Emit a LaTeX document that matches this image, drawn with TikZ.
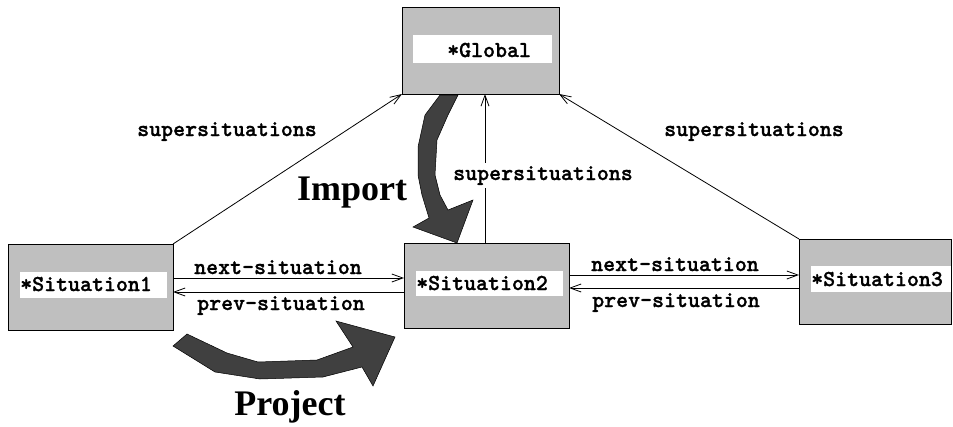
\documentclass[tikz,border=0pt]{standalone}
\usepackage{fontspec}
\setmainfont{Liberation Serif}
\newfontfamily\typefont{lmmonolt10-bold.otf}[FakeBold=1.2]
\usetikzlibrary{arrows.meta,calc}

\definecolor{boxgray}{gray}{0.75}
\definecolor{bigarrow}{gray}{0.25}

\tikzset{
  situation/.style={draw=black, line width=0.9pt, fill=boxgray, anchor=north west,
                    inner sep=0pt, outer sep=0pt},
  tagbox/.style={fill=white, anchor=north west, inner sep=0pt, outer sep=0pt},
  slot/.style={font=\typefont\fontsize{22.8}{24}\selectfont, anchor=base west, inner sep=0pt},
  rel/.style={font=\typefont\fontsize{22.8}{24}\selectfont, anchor=base, inner sep=0pt},
  link/.style={line width=0.8pt, -{Straight Barb[length=11pt,width=8pt,line width=0.8pt]}},
  flow/.style={draw=black, line width=0.5pt, fill=bigarrow},
  verb/.style={font=\bfseries\fontsize{36}{40}\selectfont, anchor=base, inner sep=0pt}
}

\begin{document}
\begin{tikzpicture}[x=1pt,y=-1pt]
\useasboundingbox (0,0) rectangle (953,426);

% frames
\node[situation, minimum width=157pt, minimum height=87pt] (g)  at (402,7)   {};
\node[situation, minimum width=165pt, minimum height=86pt] (s1) at (8,244)   {};
\node[situation, minimum width=165pt, minimum height=85pt] (s2) at (404,243) {};
\node[situation, minimum width=152pt, minimum height=85pt] (s3) at (799,239) {};

% white name plates
\node[tagbox, minimum width=139pt, minimum height=28pt] (gt)  at (413,35)  {};
\node[tagbox, minimum width=147pt, minimum height=26pt] (s1t) at (20,272)  {};
\node[tagbox, minimum width=147pt, minimum height=25pt] (s2t) at (416,271) {};
\node[tagbox, minimum width=140pt, minimum height=26pt] (s3t) at (811,266) {};

\node[slot] (gn)  at (447,57)  {*Global};
\node[slot] (s1n) at (20,291)  {*Situation1};
\node[slot] (s2n) at (416,290) {*Situation2};
\node[slot] (s3n) at (811,286) {*Situation3};

% supersituation links
\draw[link] (s1.north east) -- (g.south west);
\draw[link] (s3.north west) -- (g.south east);
\coordinate (mid) at ($(s2.north west)+(81,0)$);
\draw[link] (mid) -- (mid |- g.south);

% sequence links
\draw[link] (s1.east |- 0,278) -- (s2.west |- 0,278);
\draw[link] (s2.west |- 0,292) -- (s1.east |- 0,292);
\draw[link] (s2.east |- 0,275) -- (s3.west |- 0,275);
\draw[link] (s3.west |- 0,288) -- (s2.east |- 0,288);

% link labels
\node[rel] (l1) at (227,136) {supersituations};
\node[rel] (l2) at (754,136) {supersituations};
\node[rel, fill=white, inner sep=3pt] (l3) at (543,180) {supersituations};
\node[rel] (l4) at (278,274) {next-situation};
\node[rel] (l5) at (281,310) {prev-situation};
\node[rel] (l6) at (675,271) {next-situation};
\node[rel] (l7) at (676,307) {prev-situation};

% import arrow
\draw[flow] (440,95) -- (458,95) -- (448,115) -- (437,140) -- (435,175) -- (440,195)
  -- (448,210) -- (473,200) -- (457,243) -- (413,227) -- (429,218) -- (422,195)
  -- (418,175) -- (418,147) -- (425,115) -- cycle;

% project arrow
\draw[flow] (187,334) -- (227,353) -- (258,362) -- (317,360) -- (353,347) -- (336,321)
  -- (395,337) -- (373,386) -- (362,367) -- (323,377) -- (260,379) -- (215,372)
  -- (173,346) -- cycle;

\node[verb] (imp) at (352,200) {Import};
\node[verb] (prj) at (290,415) {Project};
\end{tikzpicture}
\end{document}
